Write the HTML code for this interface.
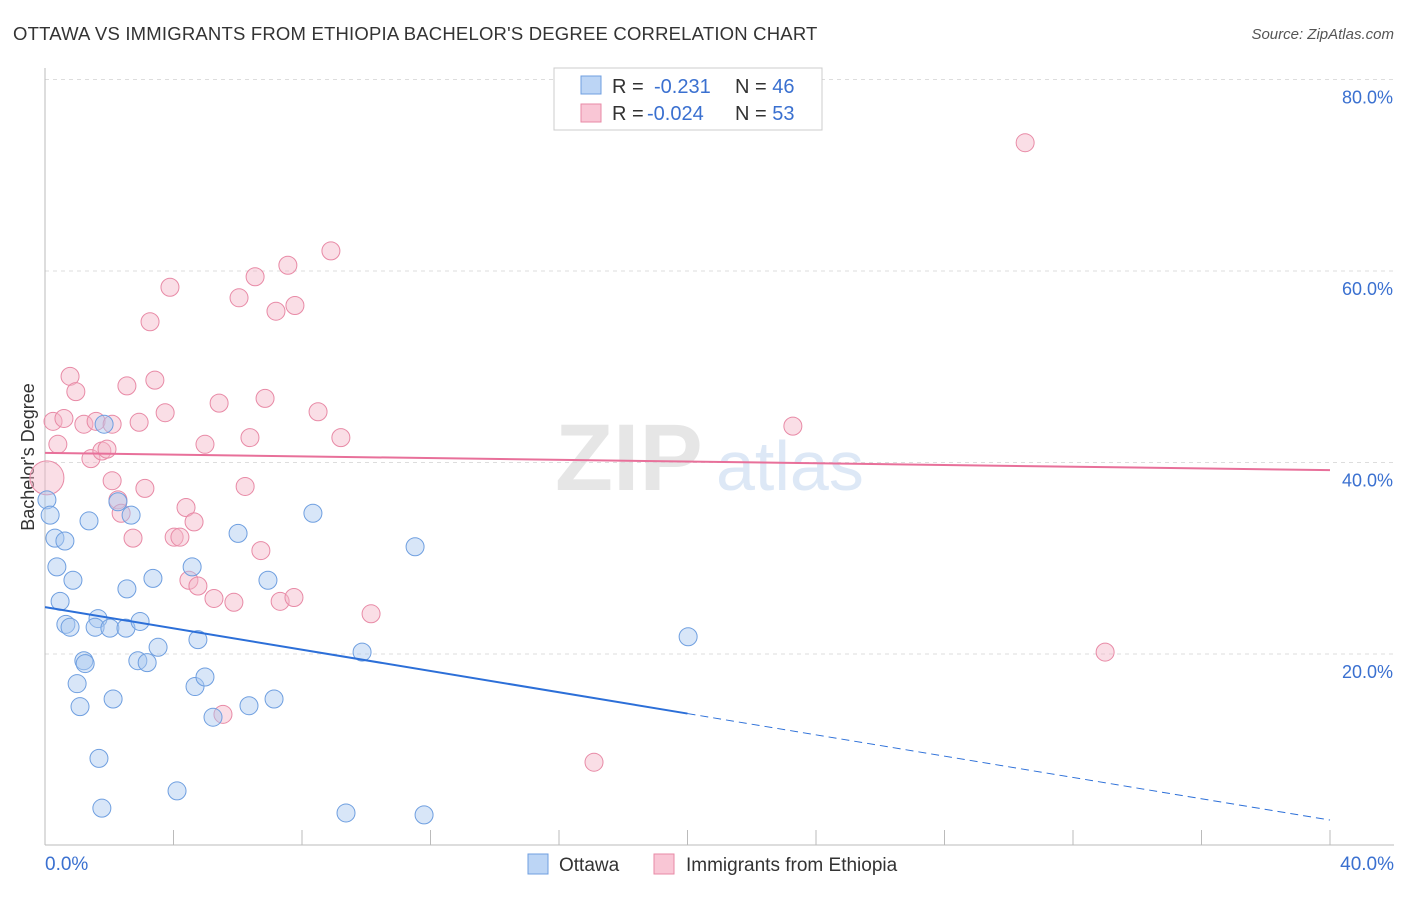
<!DOCTYPE html>
<html><head><meta charset="utf-8"><style>
body{margin:0;background:#fff;font-family:"Liberation Sans",sans-serif;}
svg text{font-family:"Liberation Sans",sans-serif;}
</style></head><body>
<svg id="chart" width="1406" height="892" xmlns="http://www.w3.org/2000/svg">
<text x="13" y="40" font-size="18.5" letter-spacing="0.2" fill="#333">OTTAWA VS IMMIGRANTS FROM ETHIOPIA BACHELOR'S DEGREE CORRELATION CHART</text>
<text x="1394" y="39" font-size="15" fill="#555" text-anchor="end" font-style="italic">Source: ZipAtlas.com</text>
<text x="555" y="490" font-size="95" fill="#e6e6e6" font-family="Liberation Serif" font-weight="bold">ZIP</text>
<text x="716" y="490" font-size="70" fill="#dde8f6">atlas</text>
<g id="grid"></g>
<g id="axes"></g>
<text transform="translate(34,457) rotate(-90)" font-size="18" fill="#333" text-anchor="middle">Bachelor's Degree</text>
<g id="marks"></g>
<g id="trends"></g>
<g>
<rect x="554" y="68" width="268" height="62" fill="#fff" stroke="#ccc"/>
<rect x="581" y="76" width="20" height="18" fill="#bcd5f5" stroke="#6f9fe0"/>
<rect x="581" y="104" width="20" height="18" fill="#f9c6d5" stroke="#e88aa6"/>
<text x="612" y="93" font-size="20" fill="#333">R =</text>
<text x="654" y="93" font-size="20" fill="#3a70d0">-0.231</text>
<text x="735" y="93" font-size="20" fill="#333">N = <tspan fill="#3a70d0">46</tspan></text>
<text x="612" y="120" font-size="20" fill="#333">R =</text>
<text x="647" y="120" font-size="20" fill="#3a70d0">-0.024</text>
<text x="735" y="120" font-size="20" fill="#333">N = <tspan fill="#3a70d0">53</tspan></text>
</g>
<g>
<rect x="528" y="854" width="20" height="20" fill="#bcd5f5" stroke="#6f9fe0"/>
<text x="559" y="871" font-size="19" fill="#333">Ottawa</text>
<rect x="654" y="854" width="20" height="20" fill="#f9c6d5" stroke="#e88aa6"/>
<text x="686" y="871" font-size="19" fill="#333">Immigrants from Ethiopia</text>
</g>
</svg>
<script>
const yTicks=[20,40,60,80];
const yTickLabels=["20.0%","40.0%","60.0%","80.0%"];
const xTickCount=10;
const ottawaX=[0.06,0.16,0.31,0.62,0.37,0.47,0.87,0.65,0.78,1.37,1.84,2.27,2.68,2.55,1.65,1.56,2.02,2.52,2.96,3.36,1.21,1.25,2.89,3.18,3.52,4.58,4.76,1.00,1.09,2.12,1.68,1.77,4.11,4.67,4.98,5.23,6.35,7.13,6.01,6.94,8.34,9.87,11.52,9.37,11.80,20.02];
const ottawaY=[36.1,34.5,32.1,31.8,29.1,25.5,27.7,23.1,22.8,33.9,44.0,35.9,34.5,26.8,23.7,22.8,22.7,22.7,23.4,27.9,19.3,19.0,19.3,19.1,20.7,29.1,21.5,16.9,14.5,15.3,9.1,3.9,5.7,16.6,17.6,13.4,14.6,15.3,32.6,27.7,34.7,20.2,31.2,3.4,3.2,21.8];
const ethX=[0.06,0.25,0.40,0.59,0.78,0.96,1.21,1.43,1.59,1.77,1.93,2.09,2.27,2.37,2.55,2.74,2.93,3.11,3.27,3.42,3.74,3.89,4.02,4.20,4.39,4.48,4.64,4.76,4.98,5.26,5.42,5.54,5.88,6.04,6.23,6.38,6.54,6.72,6.85,7.19,7.32,7.56,7.75,7.78,8.50,8.90,9.21,10.15,17.09,23.28,30.51,33.00,2.09];
const ethY=[38.4,44.3,41.9,44.6,49.0,47.4,44.0,40.4,44.3,41.2,41.4,38.1,36.1,34.7,48.0,32.1,44.2,37.3,54.7,48.6,45.2,58.3,32.2,32.2,35.3,27.7,33.8,27.1,41.9,25.8,46.2,13.7,25.4,57.2,37.5,42.6,59.4,30.8,46.7,55.8,25.5,60.6,25.9,56.4,45.3,62.1,42.6,24.2,8.7,43.8,73.4,20.2,44.0];
const ottawaTrend=[24.9,2.66];
const ethTrend=[41.0,39.2];
const NS="http://www.w3.org/2000/svg";
const X0=45,X1=1330,Y0=845.5,PXY=9.575;
const sx=v=>X0+(X1-X0)*v/40;
const sy=v=>Y0-v*PXY;
function mk(tag,attrs,parent){const e=document.createElementNS(NS,tag);for(const k in attrs)e.setAttribute(k,attrs[k]);document.getElementById(parent).appendChild(e);return e;}
yTicks.forEach((t,i)=>{
 const l=mk('line',{x1:45,x2:1394,y1:sy(t),y2:sy(t),stroke:'#ddd','stroke-dasharray':'4,4'},'grid');
 
 
 const tx=mk('text',{x:1393,y:sy(t)+24,'font-size':18,fill:'#3a70d0','text-anchor':'end'},'grid');
 tx.textContent=yTickLabels[i];
 
 
});
const ax=mk('line',{x1:45,x2:45,y1:68,y2:845,stroke:'#bbb'},'axes');


const bx=mk('line',{x1:45,x2:1394,y1:845,y2:845,stroke:'#bbb'},'axes');


for(let i=0;i<=xTickCount;i++){
 const t=mk('line',{x1:sx(i*4),x2:sx(i*4),y1:830,y2:845,stroke:'#bbb'},'axes');
 
 
}
const xl=mk('text',{x:45,y:870,'font-size':19,fill:'#3a70d0'},'axes');xl.textContent='0.0%';


const xr=mk('text',{x:1394,y:870,'font-size':19,fill:'#3a70d0','text-anchor':'end'},'axes');xr.textContent='40.0%';


ethX.forEach((x,i)=>{
 const c=mk('circle',{cx:sx(x),cy:sy(ethY[i]),r:i===0?17:9,fill:'#f5b6c8','fill-opacity':0.45,stroke:'#e88aa6','stroke-width':1},'marks');
 
 
});
ottawaX.forEach((x,i)=>{
 const c=mk('circle',{cx:sx(x),cy:sy(ottawaY[i]),r:9,fill:'#a9c8f0','fill-opacity':0.45,stroke:'#6f9fe0','stroke-width':1},'marks');
 
 
});
const ob=v=>ottawaTrend[0]+(ottawaTrend[1]-ottawaTrend[0])*v/40;
const t1=mk('line',{x1:sx(0),y1:sy(ob(0)),x2:sx(20),y2:sy(ob(20)),stroke:'#2c6fd8','stroke-width':2},'trends');


const t2=mk('line',{x1:sx(20),y1:sy(ob(20)),x2:sx(40),y2:sy(ob(40)),stroke:'#2c6fd8','stroke-width':1,'stroke-dasharray':'8,5'},'trends');


const t3=mk('line',{x1:sx(0),y1:sy(ethTrend[0]),x2:sx(40),y2:sy(ethTrend[1]),stroke:'#e8709a','stroke-width':2},'trends');


</script>
</body></html>
